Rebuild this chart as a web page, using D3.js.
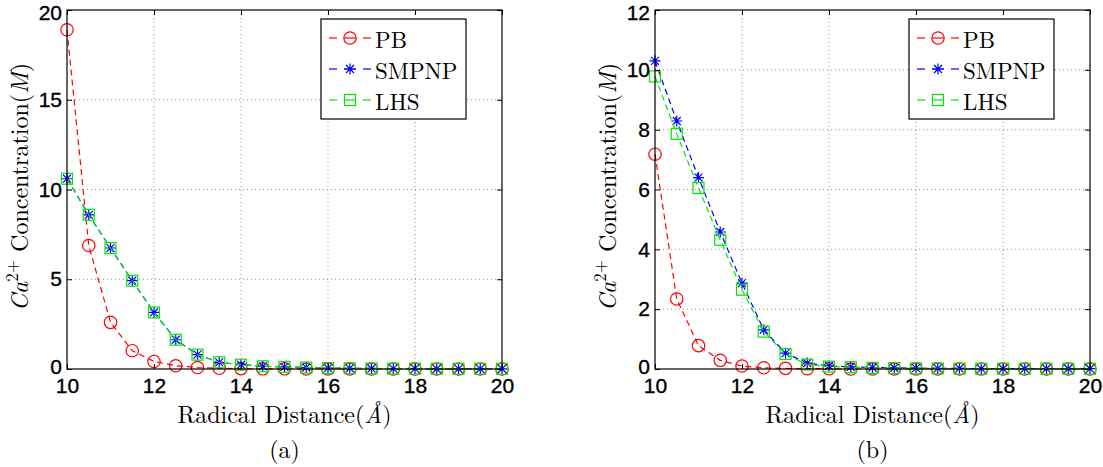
<!DOCTYPE html>
<html>
<head>
<meta charset="utf-8">
<script src="https://cdn.jsdelivr.net/npm/d3@7"></script>
<style>
  body { margin: 0; background: #fff; }
  svg { display: block; }
</style>
</head>
<body>
<div id="canvas"></div>
<script>
"use strict"

/* Data */
let distance = [10, 10.5, 11, 11.5, 12, 12.5, 13, 13.5, 14, 14.5, 15, 15.5, 16, 16.5, 17, 17.5, 18, 18.5, 19, 19.5, 20];

// panel (a)
let pbA    = [18.9, 6.88, 2.6, 1.02, 0.42, 0.18, 0.08, 0.04, 0.02, 0.01, 0.01, 0, 0, 0, 0, 0, 0, 0, 0, 0, 0];
let smpnpA = [10.6, 8.59, 6.74, 4.92, 3.15, 1.63, 0.8, 0.37, 0.24, 0.15, 0.12, 0.08, 0.05, 0.04, 0.03, 0.02, 0.02, 0.01, 0.01, 0.01, 0.01];
let lhsA   = [10.6, 8.59, 6.74, 4.92, 3.15, 1.63, 0.8, 0.37, 0.24, 0.15, 0.12, 0.08, 0.05, 0.04, 0.03, 0.02, 0.02, 0.01, 0.01, 0.01, 0.01];

// panel (b)
let pbB    = [7.18, 2.34, 0.78, 0.29, 0.1, 0.04, 0.02, 0.01, 0.01, 0, 0, 0, 0, 0, 0, 0, 0, 0, 0, 0, 0];
let smpnpB = [10.3, 8.29, 6.4, 4.58, 2.87, 1.31, 0.53, 0.2, 0.1, 0.07, 0.05, 0.04, 0.03, 0.02, 0.02, 0.01, 0.01, 0.01, 0.01, 0.01, 0.01];
let lhsB   = [9.78, 7.86, 6.05, 4.32, 2.65, 1.25, 0.5, 0.15, 0.08, 0.06, 0.04, 0.03, 0.02, 0.02, 0.01, 0.01, 0.01, 0.01, 0.01, 0.01, 0.01];

let seriesNames = ["PB", "SMPNP", "LHS"];
let seriesColors = ["#ff0000", "#0000ff", "#00e600"];
let seriesMarkers = ["circle", "star", "square"];

let xTicks = [10, 12, 14, 16, 18, 20];
let yTicksA = [0, 5, 10, 15, 20];
let yTicksB = [0, 2, 4, 6, 8, 10, 12];

/* Configuration: drawing */
let svgWidth = 1103;
let svgHeight = 467;
let sansFont = "'Liberation Sans', Arial, sans-serif";
let serifFont = "'Latin Modern Roman', 'CMU Serif', 'DejaVu Serif', 'Liberation Serif', serif";

let svg = d3.select("#canvas")
    .append("svg")
    .attr("width", svgWidth)
    .attr("height", svgHeight);

function drawMarker(g, type, x, y, color) {
    if (type === "circle") {
        g.append("circle")
            .attr("cx", x).attr("cy", y).attr("r", 6.2)
            .attr("fill", "none").attr("stroke", color).attr("stroke-width", 1.2);
    } else if (type === "square") {
        g.append("rect")
            .attr("x", x - 5.5).attr("y", y - 5.5)
            .attr("width", 11).attr("height", 11)
            .attr("fill", "none").attr("stroke", color).attr("stroke-width", 1.2);
    } else {
        let r = 5.5, d = r * 0.72;
        g.append("path")
            .attr("d", `M${x - r},${y}H${x + r}M${x},${y - r}V${y + r}` +
                       `M${x - d},${y - d}L${x + d},${y + d}M${x - d},${y + d}L${x + d},${y - d}`)
            .attr("stroke", color).attr("stroke-width", 1.2).attr("fill", "none");
    }
}

function drawPanel(left, yMax, yTicks, values, caption) {
    let top = 10, bottom = 369, right = left + 435;

    let xScale = d3.scaleLinear().domain([10, 20]).range([left, right]);
    let yScale = d3.scaleLinear().domain([0, yMax]).range([bottom, top]);

    let g = svg.append("g");

    /* dotted grid */
    g.selectAll(".gx").data(xTicks.slice(1, -1)).join("line")
        .attr("x1", d => xScale(d)).attr("x2", d => xScale(d))
        .attr("y1", top).attr("y2", bottom)
        .attr("stroke", "#777").attr("stroke-width", 0.8).attr("stroke-dasharray", "1,3");
    g.selectAll(".gy").data(yTicks.slice(1, -1)).join("line")
        .attr("y1", d => yScale(d)).attr("y2", d => yScale(d))
        .attr("x1", left).attr("x2", right)
        .attr("stroke", "#777").attr("stroke-width", 0.8).attr("stroke-dasharray", "1,3");

    /* series: dashed lines then markers */
    values.forEach(function (vals, i) {
        let pts = distance.map((d, k) => [xScale(d), yScale(vals[k])]);
        g.append("path")
            .attr("d", d3.line()(pts))
            .attr("fill", "none")
            .attr("stroke", seriesColors[i])
            .attr("stroke-width", 1.2)
            .attr("stroke-dasharray", "6,4");
        pts.forEach(p => drawMarker(g, seriesMarkers[i], p[0], p[1], seriesColors[i]));
    });

    /* box with inward ticks on all sides */
    g.append("rect")
        .attr("x", left).attr("y", top)
        .attr("width", right - left).attr("height", bottom - top)
        .attr("fill", "none").attr("stroke", "#000").attr("stroke-width", 1.2);

    let xAxisB = d3.axisBottom(xScale).tickValues(xTicks).tickSizeInner(-5).tickSizeOuter(0).tickPadding(9);
    let xAxisT = d3.axisTop(xScale).tickValues(xTicks).tickSizeInner(-5).tickSizeOuter(0).tickFormat("");
    let yAxisL = d3.axisLeft(yScale).tickValues(yTicks).tickSizeInner(-5).tickSizeOuter(0).tickPadding(5);
    let yAxisR = d3.axisRight(yScale).tickValues(yTicks).tickSizeInner(-5).tickSizeOuter(0).tickFormat("");

    [[xAxisB, `translate(0,${bottom})`], [xAxisT, `translate(0,${top})`],
     [yAxisL, `translate(${left},0)`], [yAxisR, `translate(${right},0)`]].forEach(function (a) {
        let ax = g.append("g").attr("transform", a[1]).call(a[0]);
        ax.select(".domain").remove();
        ax.selectAll("line").attr("stroke", "#000");
        ax.selectAll("text")
            .attr("font-family", sansFont)
            .attr("font-size", 21)
            .attr("fill", "#000")
            .attr("stroke", "#000")
            .attr("stroke-width", 0.35);
        // the end labels of the y axis sit a little inward in the reference
        if (a[0] === yAxisL) {
            ax.selectAll(".tick text").filter(d => d === yMax).attr("dy", "0.45em");
            ax.selectAll(".tick text").filter(d => d === 0).attr("dy", "0.22em");
        }
    });

    /* axis labels */
    let cx = (left + right) / 2;
    let xl = g.append("text")
        .attr("x", cx).attr("y", 423)
        .attr("text-anchor", "middle")
        .attr("font-family", serifFont).attr("font-size", 24);
    xl.append("tspan").text("Radical Distance(");
    xl.append("tspan").attr("font-style", "italic").text("Å");
    xl.append("tspan").text(")");

    let yl = g.append("text")
        .attr("transform", `translate(${left - 39},187) rotate(-90)`)
        .attr("text-anchor", "middle")
        .attr("font-family", serifFont).attr("font-size", 24);
    yl.append("tspan").attr("font-style", "italic").text("Ca");
    yl.append("tspan").attr("font-size", 17).attr("dy", -10).text("2+");
    yl.append("tspan").attr("dy", 10).text(" Concentration(");
    yl.append("tspan").attr("font-style", "italic").text("M");
    yl.append("tspan").text(")");

    g.append("text")
        .attr("x", cx).attr("y", 458)
        .attr("text-anchor", "middle")
        .attr("font-family", serifFont).attr("font-size", 24)
        .text(caption);

    /* legend */
    let lx = right - 181, ly = 19;
    g.append("rect")
        .attr("x", lx).attr("y", ly).attr("width", 145).attr("height", 100)
        .attr("fill", "#fff").attr("stroke", "#000").attr("stroke-width", 1.2);
    seriesNames.forEach(function (name, i) {
        let y = ly + 19 + i * 31;
        [[lx + 8, lx + 16], [lx + 42, lx + 50]].forEach(function (seg) {
            g.append("line")
                .attr("x1", seg[0]).attr("x2", seg[1]).attr("y1", y).attr("y2", y)
                .attr("stroke", seriesColors[i]).attr("stroke-width", 1.2);
        });
        drawMarker(g, seriesMarkers[i], lx + 29, y, seriesColors[i]);
        g.append("line")
            .attr("x1", lx + 23).attr("x2", lx + 35).attr("y1", y).attr("y2", y)
            .attr("stroke", seriesColors[i]).attr("stroke-width", 1.2);
        g.append("text")
            .attr("x", lx + 54).attr("y", y)
            .attr("dominant-baseline", "central")
            .attr("font-family", serifFont).attr("font-size", 23)
            .text(name);
    });
}

drawPanel(67, 20, yTicksA, [pbA, smpnpA, lhsA], "(a)");
drawPanel(655, 12, yTicksB, [pbB, smpnpB, lhsB], "(b)");
</script>
</body>
</html>
